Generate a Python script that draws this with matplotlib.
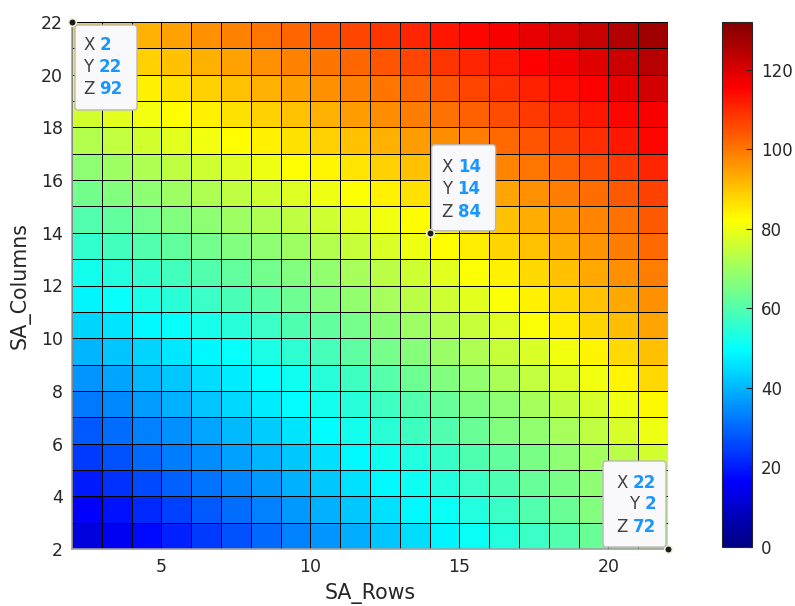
import numpy as np
import matplotlib
matplotlib.use("Agg")
import matplotlib.pyplot as plt
from matplotlib.colors import LinearSegmentedColormap
from matplotlib.patches import FancyBboxPatch
from matplotlib.transforms import IdentityTransform

# grid vertices (systolic array rows / columns)
sa_rows = np.arange(2, 23)
sa_cols = np.arange(2, 23)

# face values, one row per SA_Columns value (2 at the top of the list), SA_Rows 2..21 across
z = np.array([
    [12, 15, 18, 21, 24, 27, 30, 33, 36, 39, 42, 45, 48, 51, 54, 57, 60, 63, 66, 69],
    [16, 19, 22, 25, 28, 30.5, 33.5, 36.5, 39.5, 42.5, 45.5, 48.5, 51, 54, 57, 60, 63, 66, 69, 71.5],
    [20, 23, 26, 29, 31.5, 34, 36.5, 39.5, 42.5, 45.5, 48.5, 51.5, 54, 57, 59.5, 62.5, 65, 68, 71, 74],
    [24, 27, 30, 32.5, 35, 37.5, 40, 42.5, 45.5, 48.5, 51.5, 54, 56.5, 59.5, 62, 65, 68, 70.5, 73.5, 76.5],
    [28, 30.5, 33, 35.5, 38, 40.5, 43, 46, 49, 52, 55, 57.5, 60, 63, 66, 68.5, 71, 74, 77, 80],
    [32, 34.5, 37, 39.5, 42, 44.5, 47, 49.5, 52, 54.5, 57.5, 60, 62.5, 65.5, 68, 71, 74, 77, 80, 83.5],
    [36, 38, 40.5, 42.5, 45, 47, 49, 51.5, 54.5, 57.5, 60.5, 63.5, 66, 68.5, 71.5, 74.5, 77.5, 80.5, 84, 87.5],
    [40, 42, 44, 46.5, 48.5, 50.5, 53, 55.5, 58.5, 61.5, 64.5, 67, 69.5, 72, 75, 77.5, 80.5, 84, 87.5, 90.5],
    [44, 46, 48.5, 50.5, 52.5, 54.5, 57, 59.5, 62, 64.5, 67.5, 70, 72.5, 75, 78, 81.5, 85, 88, 91, 94],
    [48, 50.5, 53, 55, 57, 59, 61, 63.5, 66, 68.5, 71, 73.5, 76, 78.5, 81.5, 84.5, 87.5, 90.5, 93.5, 96.5],
    [52, 54, 56, 58, 60, 62, 64, 66, 68.5, 71, 73.5, 76, 78.5, 81.5, 84.5, 87.5, 90.5, 93.5, 96.5, 99],
    [56, 58, 60, 62, 64, 66, 68, 70, 72.5, 75, 77.5, 80, 82.5, 85, 88, 90.5, 93, 96, 99, 102],
    [60, 62, 64, 66, 68, 70, 72, 74, 76, 78.5, 80.5, 82.5, 84, 87, 90.5, 93, 95.5, 98, 101, 104],
    [64, 66, 68, 70, 72, 74, 76, 78, 80, 82, 84.5, 86.5, 89, 91.5, 94, 96.5, 99, 101.5, 104, 107],
    [68, 70, 72, 74, 76, 78, 80, 82, 84, 86, 88.5, 90.5, 93, 95.5, 98, 100.5, 103, 105.5, 108, 110.5],
    [72.5, 74.5, 76.5, 78.5, 80.5, 82.5, 84.5, 86.5, 88.5, 90.5, 92.5, 95, 97, 99.5, 102, 104.5, 107, 109.5, 112, 114.5],
    [76.5, 78.5, 80.5, 82.5, 84.5, 86.5, 88.5, 90.5, 92.5, 95, 97, 99, 101, 103, 105.5, 108, 110.5, 112.5, 114.5, 116.5],
    [80.5, 82.5, 84.5, 86.5, 88.5, 90.5, 92.5, 94.5, 96.5, 98.5, 100.5, 102.5, 104.5, 106.5, 109, 111, 113.5, 116, 118.5, 121],
    [84.5, 86.5, 88.5, 90.5, 92.5, 94.5, 96.5, 98.5, 100.5, 102.5, 104.5, 106.5, 108.5, 110.5, 112.5, 115, 117, 119.5, 122, 124.5],
    [88.5, 90.5, 92.5, 94.5, 96.5, 98.5, 100.5, 102.5, 104.5, 106.5, 108.5, 110.5, 112.5, 114.5, 116.5, 118.5, 120.5, 122.5, 125, 127.5],
])

# data tips
tip_x = [2, 14, 22]
tip_y = [22, 14, 2]
tip_z = [92, 84, 72]

c_lim = (0, 132)
cb_ticks = [0, 20, 40, 60, 80, 100, 120]

# matlab style jet
jet = LinearSegmentedColormap.from_list("mjet", [
    (0.0, (0, 0, 0.5)), (0.125, (0, 0, 1)), (0.375, (0, 1, 1)),
    (0.625, (1, 1, 0)), (0.875, (1, 0, 0)), (1.0, (0.5, 0, 0))], N=256)

W, H = 795, 606
TXT = "#262626"
fig = plt.figure(figsize=(W / 100, H / 100), dpi=100)
ax = fig.add_axes([72 / W, 1 - 549 / H, 596 / W, 527 / H])
cax = fig.add_axes([722 / W, 1 - 547 / H, 30 / W, 525 / H])

mesh = ax.pcolormesh(sa_rows, sa_cols, z, cmap=jet, vmin=c_lim[0], vmax=c_lim[1],
                     shading="flat", edgecolors="k", linewidth=0.6)
ax.set_xlim(2, 22)
ax.set_ylim(2, 22)
ax.set_xticks([5, 10, 15, 20])
ax.set_yticks(range(2, 23, 2))
ax.tick_params(length=0, labelsize=12.5, labelcolor=TXT, pad=6.5)
for s in ["top", "right"]:
    ax.spines[s].set_visible(False)
for s in ["left", "bottom"]:
    ax.spines[s].set_color("#a0a0a0")
    ax.spines[s].set_linewidth(1.2)
ax.set_xlabel("SA_Rows", fontsize=14.8, color=TXT, labelpad=5)
ax.set_ylabel("SA_Columns", fontsize=14.8, color=TXT, labelpad=7)

cb = fig.colorbar(mesh, cax=cax, ticks=cb_ticks)
cb.outline.set_edgecolor(TXT)
cb.outline.set_linewidth(0.8)
cax.tick_params(direction="in", length=4, width=0.8, color=TXT,
                labelsize=12, labelcolor=TXT, pad=6.5)

# markers at the tip vertices
ax.plot(tip_x, tip_y, "o", color="#1a1a1a", markersize=5.5, mec="#f4f4dc",
        mew=1.2, clip_on=False, zorder=5)

# tip box offsets in pixels from the vertex: box (x0, x1, y0, y1), text x, line offsets, align
tip_layout = [
    ((3, 65, -88, -3), 11, (-23, -45, -67), "left"),
    ((2, 66, 2, 88), 12, (66, 44, 21), "left"),
    ((-65, -2, 2, 88), -12, (66, 45, 22), "right"),
]

fig.canvas.draw()
rend = fig.canvas.get_renderer()
ident = IdentityTransform()
for x, y, zv, (box, tx, rows, align) in zip(tip_x, tip_y, tip_z, tip_layout):
    px, py = ax.transData.transform((x, y))
    bx0, bx1, by0, by1 = box
    fig.add_artist(FancyBboxPatch((px + bx0, py + by0), bx1 - bx0, by1 - by0,
                                  boxstyle="round,pad=0,rounding_size=3",
                                  transform=ident, fc="#f9f9fc", ec="#b8b8b8",
                                  lw=1.0, zorder=6))
    for name, val, dy in zip(["X", "Y", "Z"], [x, y, zv], rows):
        ty = py + dy
        if align == "left":
            t = fig.text(px + tx, ty, name, transform=ident, ha="left", va="center",
                         fontsize=12, color="#404040", zorder=7)
            ext = t.get_window_extent(rend)
            fig.text(ext.x1 + 5, ty, str(val), transform=ident, ha="left", va="center",
                     fontsize=12, color="#1a96ff", fontweight="bold", zorder=7)
        else:
            t = fig.text(px + tx, ty, str(val), transform=ident, ha="right", va="center",
                         fontsize=12, color="#1a96ff", fontweight="bold", zorder=7)
            ext = t.get_window_extent(rend)
            fig.text(ext.x0 - 5, ty, name, transform=ident, ha="right", va="center",
                     fontsize=12, color="#404040", zorder=7)

fig.savefig("out.png", dpi=100)
